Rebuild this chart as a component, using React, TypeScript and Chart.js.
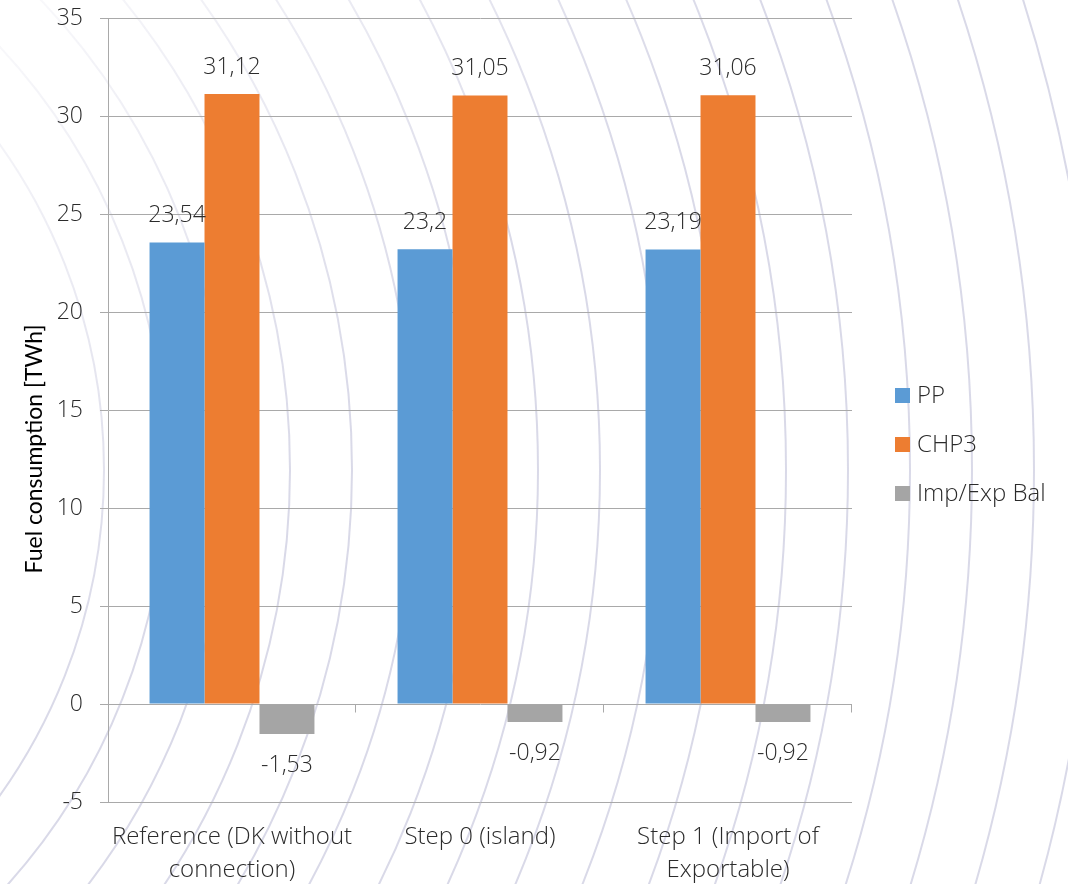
import React, { useEffect, useRef } from "react";
import { Chart, registerables } from "chart.js";

Chart.register(...registerables);

const categories: string[][] = [
  ["Reference (DK without", "connection)"],
  ["Step 0 (island)"],
  ["Step 1 (Import of", "Exportable)"],
];
const seriesNames = ["PP", "CHP3", "Imp/Exp Bal"];
const ppValues = [23.54, 23.2, 23.19];
const chp3Values = [31.12, 31.05, 31.06];
const impExpValues = [-1.53, -0.92, -0.92];
const yMin = -5;
const yMax = 35;
const yStep = 5;
const yTitle = "Fuel consumption [TWh]";
const seriesColors = ["#5B9BD5", "#ED7D31", "#A5A5A5"];

const TEXT = "#2b2b2b";
const GRID = "#a9a9a9";
const FONT_FAMILY = '"Open Sans", "Segoe UI", sans-serif';

const fmt = (v: number) => String(v).replace(".", ",");

const backgroundArcs = {
  id: "backgroundArcs",
  beforeDraw(chart: any) {
    const ctx = chart.ctx;
    ctx.save();
    const g = ctx.createLinearGradient(0, 0, 380, 380);
    g.addColorStop(0, "rgba(165,165,200,0.06)");
    g.addColorStop(1, "rgba(165,165,200,0.42)");
    ctx.strokeStyle = g;
    ctx.lineWidth = 2;
    for (let r = 560; r <= 1800; r += 62) {
      ctx.beginPath();
      ctx.arc(-456, 470, r, 0, Math.PI * 2);
      ctx.stroke();
    }
    ctx.restore();
  },
};

const zeroTicks = {
  id: "zeroTicks",
  beforeDatasetsDraw(chart: any) {
    const { ctx, chartArea, scales } = chart;
    const y0 = Math.round(scales.y.getPixelForValue(0)) + 0.5;
    const n = chart.data.labels.length;
    ctx.save();
    ctx.strokeStyle = GRID;
    ctx.lineWidth = 1;
    ctx.beginPath();
    for (let i = 1; i <= n; i++) {
      const x = Math.round(chartArea.left + (i * chartArea.width) / n) - 0.5;
      ctx.moveTo(x, y0);
      ctx.lineTo(x, y0 + 8);
    }
    ctx.stroke();
    ctx.restore();
  },
};

const dataLabels = {
  id: "dataLabels",
  afterDatasetsDraw(chart: any) {
    const ctx = chart.ctx;
    ctx.save();
    ctx.font = `300 23px ${FONT_FAMILY}`;
    ctx.fillStyle = TEXT;
    ctx.textAlign = "center";
    ctx.textBaseline = "middle";
    chart.data.datasets.forEach((ds: any, di: number) => {
      const meta = chart.getDatasetMeta(di);
      meta.data.forEach((bar: any, i: number) => {
        const v = ds.data[i];
        const y = v >= 0 ? bar.y - 27 : bar.y + 31;
        ctx.fillText(fmt(v), bar.x, y);
      });
    });
    ctx.restore();
  },
};

const customLegend = {
  id: "customLegend",
  afterDraw(chart: any) {
    const ctx = chart.ctx;
    const { chartArea } = chart;
    ctx.save();
    ctx.font = `300 24px ${FONT_FAMILY}`;
    ctx.textAlign = "left";
    ctx.textBaseline = "middle";
    const x = chartArea.right + 43;
    const yc = (chartArea.top + chartArea.bottom) / 2 + 34;
    const n = chart.data.datasets.length;
    chart.data.datasets.forEach((ds: any, i: number) => {
      const y = yc + (i - (n - 1) / 2) * 49;
      ctx.fillStyle = ds.backgroundColor;
      ctx.fillRect(x, y - 7, 15, 15);
      ctx.fillStyle = TEXT;
      ctx.fillText(ds.label, x + 22, y + 1);
    });
    ctx.restore();
  },
};

const axisTitle = {
  id: "axisTitle",
  afterDraw(chart: any) {
    const ctx = chart.ctx;
    const { chartArea } = chart;
    ctx.save();
    ctx.translate(35, (chartArea.top + chartArea.bottom) / 2 + 39);
    ctx.rotate(-Math.PI / 2);
    ctx.font = `400 23px Lato, "Noto Sans", sans-serif`;
    ctx.fillStyle = "#000000";
    ctx.textAlign = "center";
    ctx.textBaseline = "middle";
    ctx.fillText(yTitle, 0, 0);
    ctx.restore();
  },
};

export default function App() {
  const canvasRef = useRef<HTMLCanvasElement | null>(null);

  useEffect(() => {
    const canvas = canvasRef.current;
    if (!canvas) return;
    const series = [ppValues, chp3Values, impExpValues];
    const chart = new Chart(canvas, {
      type: "bar",
      data: {
        labels: categories,
        datasets: series.map((values, i) => ({
          label: seriesNames[i],
          data: values,
          backgroundColor: seriesColors[i],
          borderWidth: 0,
          categoryPercentage: 0.665,
          barPercentage: 1,
        })),
      },
      options: {
        animation: false,
        responsive: false,
        devicePixelRatio: 1,
        layout: { padding: { top: 18, right: 216, bottom: 0, left: 0 } },
        plugins: {
          legend: { display: false },
          tooltip: { enabled: false },
          title: { display: false },
        },
        scales: {
          x: {
            grid: { display: false, drawTicks: false },
            border: { display: false },
            ticks: {
              color: TEXT,
              padding: 19,
              maxRotation: 0,
              autoSkip: false,
              font: { family: FONT_FAMILY, size: 24, weight: "300", lineHeight: 1.375 },
            },
            afterFit(scale: any) {
              scale.height = 82;
            },
          },
          y: {
            min: yMin,
            max: yMax,
            ticks: {
              stepSize: yStep,
              color: TEXT,
              padding: 17,
              font: { family: FONT_FAMILY, size: 23, weight: "300" },
            },
            grid: {
              color: GRID,
              lineWidth: 1,
              drawTicks: true,
              tickLength: 8,
              tickColor: GRID,
            },
            border: { display: true, color: GRID, width: 1 },
            afterFit(scale: any) {
              scale.width = 108;
              scale.paddingTop = 0;
              scale.paddingBottom = 0;
            },
          },
        },
      } as any,
      plugins: [backgroundArcs, zeroTicks, dataLabels, customLegend, axisTitle],
    });
    return () => chart.destroy();
  }, []);

  return (
    <div style={{ position: "absolute", left: 0, top: 0, width: 1068, height: 884, background: "#ffffff" }}>
      <canvas ref={canvasRef} width={1068} height={884} style={{ display: "block" }} />
    </div>
  );
}
